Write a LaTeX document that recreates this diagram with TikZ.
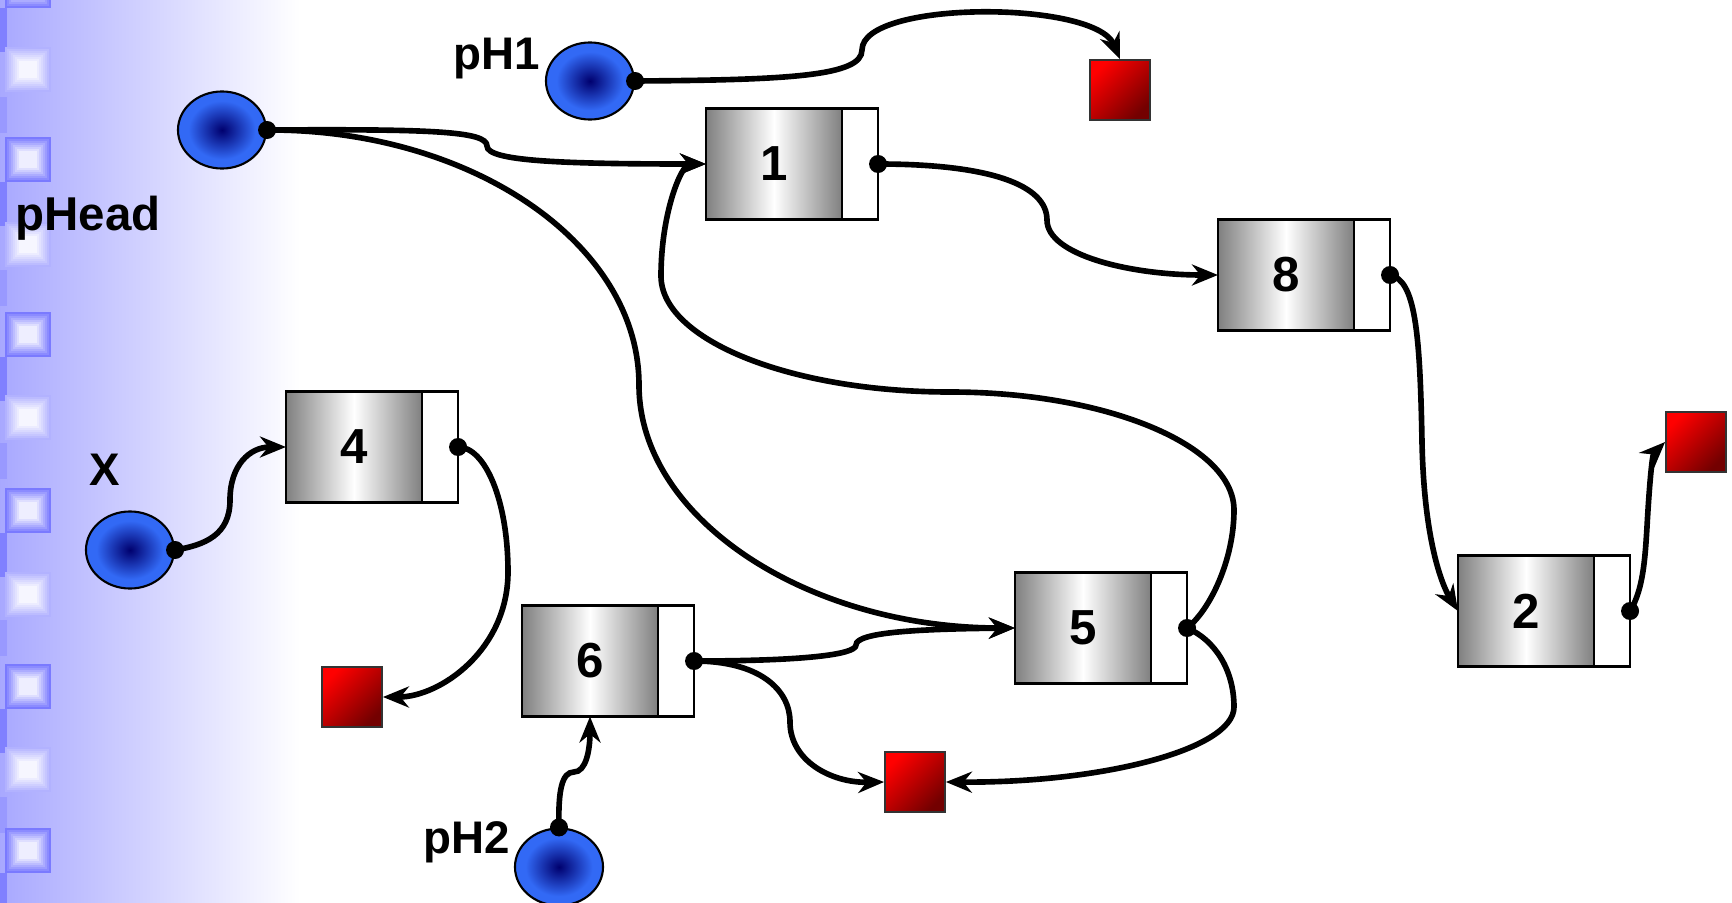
\documentclass[tikz,border=0pt]{standalone}
\usepackage{fontspec}
\setmainfont{Liberation Sans}
\usetikzlibrary{arrows.meta,positioning,shapes.geometric}

\definecolor{ptrblue}{RGB}{50,105,245}
\definecolor{ptrnavy}{RGB}{0,0,110}
\definecolor{stripblue}{RGB}{128,128,255}

\pgfdeclareradialshading{ptrshade}{\pgfpoint{0bp}{0bp}}{color(0bp)=(ptrnavy);
  color(19bp)=(ptrblue); color(50bp)=(ptrblue)}

\tikzset{
  ptrvar/.style={ellipse, draw, line width=0.6pt, minimum width=0.88cm,
    minimum height=0.77cm, inner sep=0pt, shade, shading=ptrshade},
  datacell/.style={rectangle, draw, line width=0.6pt, outer sep=0pt,
    minimum width=1.36cm, minimum height=1.11cm, inner sep=0pt,
    left color=gray, right color=gray, middle color=white,
    font=\fontsize{14pt}{16pt}\selectfont\bfseries},
  nextcell/.style={rectangle, draw, fill=white, line width=0.6pt, outer sep=0pt,
    minimum width=0.36cm, minimum height=1.11cm, inner sep=0pt},
  nullbox/.style={rectangle, draw=black!80, line width=0.5pt, minimum size=0.6cm,
    inner sep=0pt, top color=red, bottom color=red!45!black, shading angle=45},
  varname/.style={anchor=base west, inner sep=0pt,
    font=\fontsize{13pt}{15pt}\selectfont\bfseries},
  link/.style={line width=1.6pt, -{Stealth[length=0.26cm,width=0.21cm]}},
}

\begin{document}
\begin{tikzpicture}[x=0.01cm, y=-0.01cm]
\useasboundingbox (0,0) rectangle (1732,903);
\clip (0,0) rectangle (1732,903);

% slide background with the tiled strip on the left
\fill[white] (0,0) rectangle (1732,903);
\shade[left color=blue!34, middle color=blue!11, right color=white] (0,0) rectangle (300,903);
\foreach \y in {8,182,357,533,709,873}
  \fill[stripblue] (0,\y) rectangle (7,\y+44);
\foreach \y in {97,270,443,620,797}
  \fill[blue!40] (0,\y) rectangle (7,\y+36);
\foreach \y/\s in {-37/52,47/30,137/52,222/30,312/52,395/30,488/52,572/30,664/52,747/30,828/52}
  \foreach \k in {0,...,7}{
    \pgfmathsetmacro\tint{\s*(1-\k/8)}
    \fill[blue!\tint!white] (5+2*\k,\y+2*\k) rectangle (51-2*\k,\y+45-2*\k);
  }

% pointer variables
\node[ptrvar] (hd) at (222,130) {};
\node[varname, font=\fontsize{13.5pt}{15pt}\selectfont\bfseries] (hdname) at (15,230) {pHead};
\node[ptrvar] (h1) at (590,81) {};
\node[varname] (h1name) at (453,69) {pH1};
\node[ptrvar] (xv) at (130,550) {};
\node[varname] (xname) at (89,485) {X};
\node[ptrvar] (h2) at (559,867) {};
\node[varname] (h2name) at (423,853) {pH2};

% list nodes
\node[datacell] (n1) at (774,164) {1};
\node[nextcell, right=0pt of n1] (n1p) {};
\node[datacell] (n8) at (1286,275) {8};
\node[nextcell, right=0pt of n8] (n8p) {};
\node[datacell] (n2) at (1526,611) {2};
\node[nextcell, right=0pt of n2] (n2p) {};
\node[datacell] (n4) at (354,447) {4};
\node[nextcell, right=0pt of n4] (n4p) {};
\node[datacell] (n6) at (590,661) {6};
\node[nextcell, right=0pt of n6] (n6p) {};
\node[datacell] (n5) at (1083,628) {5};
\node[nextcell, right=0pt of n5] (n5p) {};

% NULL
\node[nullbox] (nil1) at (1120,90) {};
\node[nullbox] (nil2) at (1696,442) {};
\node[nullbox] (nil3) at (352,697) {};
\node[nullbox] (nil4) at (915,782) {};

% links
\draw[link] (h1.east) .. controls (790,80) and (862,76) .. (862,50)
  .. controls (862,0) and (1095,0) .. (nil1.north);
\draw[link] (hd.east) .. controls (430,129) and (487,131) .. (487,146)
  .. controls (487,161) and (560,164) .. (n1.west);
\draw[link] (hd.east) .. controls (472,129) and (639,244) .. (639,385)
  .. controls (639,519) and (808,628) .. (n5.west);
\draw[link] (n1p.east) .. controls (990,164) and (1047,185) .. (1047,220)
  .. controls (1047,255) and (1130,275) .. (n8.west);
\draw[link] (n8p.east) .. controls (1415,280) and (1420,330) .. (1422,442)
  .. controls (1424,540) and (1442,585) .. (n2.west);
\draw[link] (n2p.east) .. controls (1643,590) and (1645,560) .. (1647,527)
  .. controls (1649,490) and (1652,455) .. (nil2.west);
\draw[link] (n5p.east) .. controls (1210,610) and (1234,560) .. (1234,510)
  .. controls (1234,445) and (1106,392) .. (950,392)
  .. controls (791,392) and (661,340) .. (661,276)
  .. controls (661,214) and (681,164) .. (n1.west);
\draw[link] (n5p.east) .. controls (1215,640) and (1234,670) .. (1234,707)
  .. controls (1234,749) and (1104,783) .. (nil4.east);
\draw[link] (n6p.east) .. controls (800,661) and (856,655) .. (856,645)
  .. controls (856,632) and (920,629) .. (n5.west);
\draw[link] (n6p.east) .. controls (760,661) and (790,690) .. (790,722)
  .. controls (790,760) and (830,783) .. (nil4.west);
\draw[link] (h2.north) .. controls (558,790) and (562,772) .. (574,772)
  .. controls (586,772) and (590,750) .. (n6.south);
\draw[link] (xv.east) .. controls (205,545) and (230,535) .. (230,500)
  .. controls (230,465) and (250,447) .. (n4.west);
\draw[link] (n4p.east) .. controls (485,447) and (508,500) .. (508,572)
  .. controls (508,650) and (440,697) .. (nil3.east);

% dots where the pointers start
\foreach \a in {hd.east,h1.east,xv.east,h2.north,n1p.east,n8p.east,n2p.east,n5p.east,n6p.east,n4p.east}
  \fill (\a) circle (0.09cm);
\end{tikzpicture}
\end{document}
